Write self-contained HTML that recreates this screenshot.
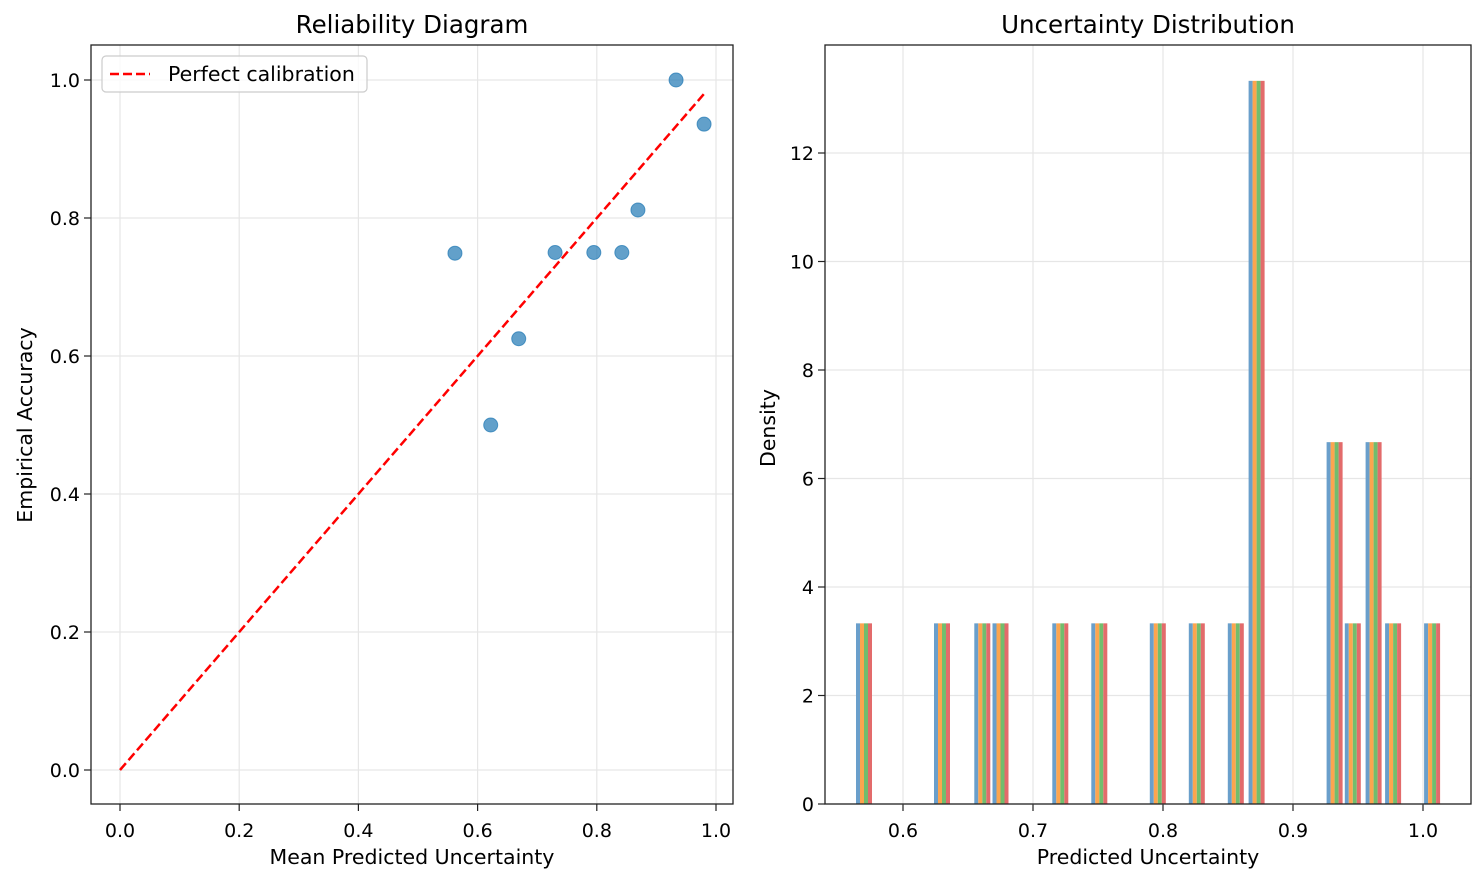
<!DOCTYPE html>
<html><head><meta charset="utf-8"><style>
body{margin:0;background:#fff;}
svg{display:block;font-family:"DejaVu Sans","Liberation Sans",sans-serif;}
</style></head><body>
<svg id="c" width="1483" height="882"></svg>
<script>
const relX=[0.562,0.622,0.669,0.730,0.795,0.842,0.869,0.933,0.980];
const relY=[0.749,0.5,0.625,0.75,0.75,0.75,0.8116,1.0,0.936];
const leftTicks=[0.0,0.2,0.4,0.6,0.8,1.0];
const binCenters=[0.570,0.630,0.661,0.675,0.721,0.751,0.796,0.826,0.856,0.872,0.932,0.946,0.962,0.977,1.007];
const binDensity=[3.33,3.33,3.33,3.33,3.33,3.33,3.33,3.33,3.33,13.33,6.67,3.33,6.67,3.33,3.33];
const histXTicks=[0.6,0.7,0.8,0.9,1.0];
const histYTicks=[0,2,4,6,8,10,12];
const seriesColors=['#6a9fcb','#fda54e','#72bd6d','#e36b6b'];

const svg=document.getElementById('c');
const NS='http://www.w3.org/2000/svg';
function mk(t,a,p){const e=document.createElementNS(NS,t);for(const k in a)e.setAttribute(k,a[k]);(p||svg).appendChild(e);return e;}
function txt(s,a,p){const e=mk('text',a,p);e.textContent=s;return e;}
const TF=19, LF=20.5, HF=24.5;

const L={x0:91,x1:733,y0:45,y1:804};
const lx=v=>120+v*596, ly=v=>770-v*690;
const gL=mk('g',{});


leftTicks.forEach(t=>{
  mk('line',{x1:lx(t),x2:lx(t),y1:L.y0,y2:L.y1,stroke:'#e6e6e6','stroke-width':1.2},gL);
  mk('line',{x1:L.x0,x2:L.x1,y1:ly(t),y2:ly(t),stroke:'#e6e6e6','stroke-width':1.2},gL);
  mk('line',{x1:lx(t),x2:lx(t),y1:L.y1,y2:L.y1+7,stroke:'#222','stroke-width':1.2},gL);
  mk('line',{x1:L.x0-7,x2:L.x0,y1:ly(t),y2:ly(t),stroke:'#222','stroke-width':1.2},gL);
  const a=txt(t.toFixed(1),{x:lx(t),y:L.y1+33,'font-size':TF,'text-anchor':'middle'},gL);
  
  const b=txt(t.toFixed(1),{x:L.x0-11,y:ly(t)+7,'font-size':TF,'text-anchor':'end'},gL);
  
});
const diag=mk('line',{x1:lx(0),y1:ly(0),x2:lx(0.98),y2:ly(0.98),stroke:'#ff0000','stroke-width':2.5,'stroke-dasharray':'9,4'},gL);

relX.forEach((x,i)=>{
  const c=mk('circle',{cx:lx(x),cy:ly(relY[i]),r:7,fill:'#1f77b4','fill-opacity':0.7,stroke:'#1f77b4','stroke-opacity':0.7},gL);
  
});
mk('rect',{x:L.x0,y:L.y0,width:L.x1-L.x0,height:L.y1-L.y0,fill:'none',stroke:'#222','stroke-width':1.3},gL);
const t1=txt('Reliability Diagram',{x:412,y:33,'font-size':HF,'text-anchor':'middle'},gL);

const xl1=txt('Mean Predicted Uncertainty',{x:412,y:864,'font-size':LF,'text-anchor':'middle'},gL);

const yl1=txt('Empirical Accuracy',{x:0,y:0,'font-size':LF,'text-anchor':'middle',transform:'translate(32,425) rotate(-90)'},gL);

const leg=mk('g',{},gL);

mk('rect',{x:102,y:56,width:265,height:36,rx:4,fill:'#fff','fill-opacity':0.8,stroke:'#ccc','stroke-width':1.2},leg);
mk('line',{x1:110,x2:150,y1:74,y2:74,stroke:'#ff0000','stroke-width':2.5,'stroke-dasharray':'9,4'},leg);
txt('Perfect calibration',{x:168,y:81,'font-size':LF},leg);

const R={x0:825,x1:1471,y0:45,y1:804};
const rx=v=>903+(v-0.6)*1300, ry=v=>804-v*54.25;
const gR=mk('g',{});


histXTicks.forEach(t=>{
  mk('line',{x1:rx(t),x2:rx(t),y1:R.y0,y2:R.y1,stroke:'#e6e6e6','stroke-width':1.2},gR);
  mk('line',{x1:rx(t),x2:rx(t),y1:R.y1,y2:R.y1+7,stroke:'#222','stroke-width':1.2},gR);
  const a=txt(t.toFixed(1),{x:rx(t),y:R.y1+33,'font-size':TF,'text-anchor':'middle'},gR);
  
});
histYTicks.forEach(t=>{
  mk('line',{x1:R.x0,x2:R.x1,y1:ry(t),y2:ry(t),stroke:'#e6e6e6','stroke-width':1.2},gR);
  mk('line',{x1:R.x0-7,x2:R.x0,y1:ry(t),y2:ry(t),stroke:'#222','stroke-width':1.2},gR);
  const b=txt(String(t),{x:R.x0-11,y:ry(t)+7,'font-size':TF,'text-anchor':'end'},gR);
  
});
binCenters.forEach((c,i)=>{
  seriesColors.forEach((col,j)=>{
    const bx=rx(c)-8+j*4;
    const r=mk('rect',{x:bx,y:ry(binDensity[i]),width:4,height:ry(0)-ry(binDensity[i]),fill:col},gR);
    
  });
});
mk('rect',{x:R.x0,y:R.y0,width:R.x1-R.x0,height:R.y1-R.y0,fill:'none',stroke:'#222','stroke-width':1.3},gR);
const t2=txt('Uncertainty Distribution',{x:1148,y:33,'font-size':HF,'text-anchor':'middle'},gR);

const xl2=txt('Predicted Uncertainty',{x:1148,y:864,'font-size':LF,'text-anchor':'middle'},gR);

const yl2=txt('Density',{x:0,y:0,'font-size':LF,'text-anchor':'middle',transform:'translate(775,428) rotate(-90)'},gR);

</script>
</body></html>
